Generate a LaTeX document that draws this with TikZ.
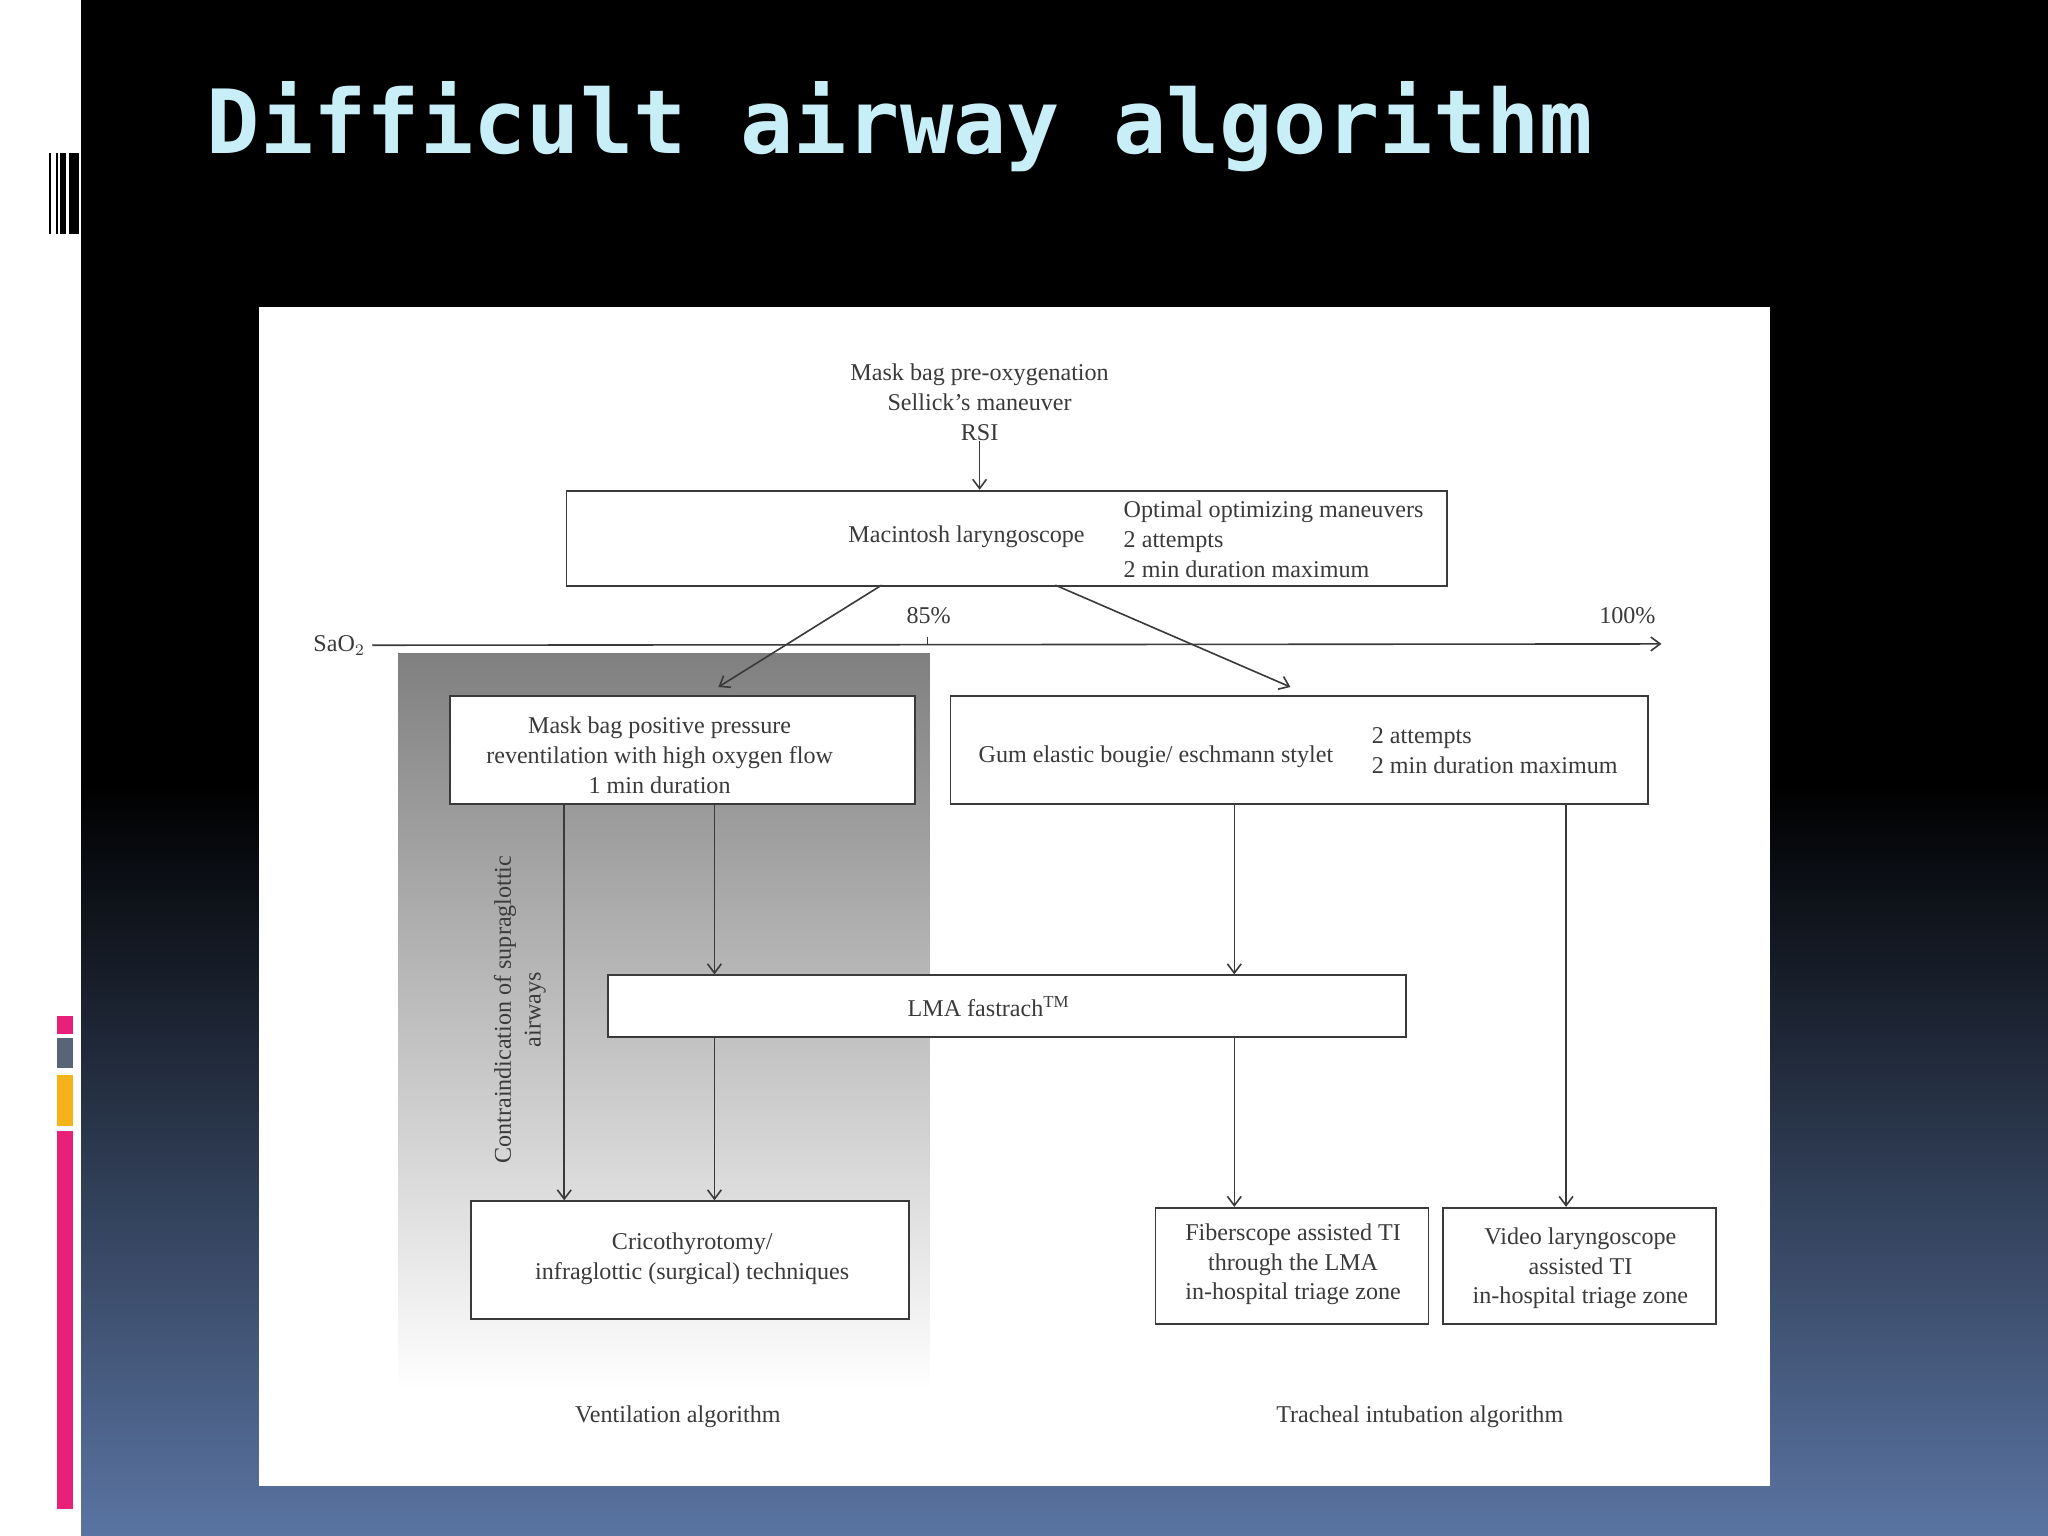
\documentclass[tikz,border=0pt]{standalone}
\usepackage{fontspec}
\setmainfont{Liberation Serif}
\newfontfamily\titlefont{DejaVu Sans Mono Bold}
\usetikzlibrary{arrows.meta}
\definecolor{ttl}{HTML}{C8EEF8}
\definecolor{ln}{HTML}{3A3A3A}
\definecolor{shade}{HTML}{EBEBED}
\definecolor{bgbot}{HTML}{5A74A2}
\definecolor{pinkbar}{HTML}{E8207A}
\definecolor{graybar}{HTML}{5A6478}
\definecolor{orangebar}{HTML}{F5B21A}
\tikzset{
  box/.style={draw=ln, line width=0.8pt, fill=white, inner sep=0pt, anchor=north west},
  txt/.style={font=\fontsize{10.5pt}{13pt}\selectfont, text=ln, inner sep=0pt, align=center},
  arr/.style={draw=ln, line width=0.7pt, -{Straight Barb[length=4pt,width=6pt]}},
}
\begin{document}
\begin{tikzpicture}[x=0.02cm,y=-0.02cm]
\useasboundingbox (0,0) rectangle (1568,1176);
% background
\shade[top color=black, bottom color=bgbot, middle color=black!80!bgbot, shading angle=0] (62,1176) rectangle (1568,0);
\fill[black] (62,0) rectangle (1568,600);
\shade[top color=black, bottom color=bgbot] (62,600) rectangle (1568,1176);
\fill[white] (0,0) rectangle (62,1176);
% sidebar bars
\fill[black] (37.6,117) rectangle (39,179);
\fill[black] (42.6,117) rectangle (44.6,179);
\fill[black] (45.9,117) rectangle (50.8,179);
\fill[black] (52.8,117) rectangle (60.8,179);
\fill[pinkbar] (44,778) rectangle (56,792);
\fill[graybar] (44,795) rectangle (56,818);
\fill[orangebar] (44,823) rectangle (56,862);
\fill[pinkbar] (44,866) rectangle (56,1155);
% title
\node[anchor=west, text=ttl, inner sep=0pt, font=\titlefont\fontsize{38.6pt}{40pt}\selectfont] (title) at (158,97) {Difficult airway algorithm};
% panel
\fill[white] (198,235) rectangle (1355,1138);
\fill[shade] (305,500) rectangle (712,1065);
% top text
\node[txt] (pre) at (750,308) {Mask bag pre-oxygenation\\Sellick's maneuver\\RSI};
% Macintosh
\node[box, minimum width=674*0.02cm, minimum height=73*0.02cm] (mac) at (433,375) {};
\node[txt] (mactxt) at (740,411) {Macintosh laryngoscope};
\node[txt, align=left, anchor=west] (macr) at (860,413) {Optimal optimizing maneuvers\\2 attempts\\2 min duration maximum};
\draw[arr] (pre.south) -- (mac.north -| pre.south);
% SaO2 axis
\node[txt, anchor=east] (sao) at (280,494) {SaO$_2$};
\coordinate (axend) at (1272,493);
\draw[arr] (sao.east) ++(5,0) coordinate (axst) -- (axend);
\draw[ln, line width=0.7pt] (710,488) coordinate (tk) -- (710,493);
\node[txt] (p85) at (711,471) {85\%};
\node[txt] (p100) at (1246,471) {100\%};
% level 2 boxes
\node[box, minimum width=356*0.02cm, minimum height=83*0.02cm] (mask) at (344,532) {};
\node[txt] (masktxt) at (505,578) {Mask bag positive pressure\\reventilation with high oxygen flow\\1 min duration};
\node[box, minimum width=534*0.02cm, minimum height=83*0.02cm] (gum) at (727,532) {};
\node[txt] (gumtxt) at (885,579) {Gum elastic bougie/ eschmann stylet};
\node[txt, align=left, anchor=west] (gumr) at (1050,575) {2 attempts\\2 min duration maximum};
\coordinate (m1) at (675,448); \coordinate (m2) at (808,448);
\draw[arr] (m1) -- (550,526) coordinate (e1);
\draw[arr] (m2) -- (988,526) coordinate (e2);
% LMA
\node[box, minimum width=611*0.02cm, minimum height=47*0.02cm] (lma) at (465,746) {};
\node[txt] (lmatxt) at (757,771) {LMA fastrach$^{\mathrm{TM}}$};
% bottom boxes
\node[box, minimum width=335*0.02cm, minimum height=90*0.02cm] (cric) at (360,919) {};
\node[txt] (crictxt) at (530,964) {Cricothyrotomy/\\infraglottic (surgical) techniques};
\node[box, minimum width=209*0.02cm, minimum height=89*0.02cm] (fib) at (884,924) {};
\node[txt] (fibtxt) at (990,968) {Fiberscope assisted TI\\through the LMA\\in-hospital triage zone};
\node[box, minimum width=209*0.02cm, minimum height=89*0.02cm] (vid) at (1104,924) {};
\node[txt] (vidtxt) at (1210,971) {Video laryngoscope\\assisted TI\\in-hospital triage zone};
% vertical arrows
\draw[arr] (mask.south -| 432,0) -- (cric.north -| 432,0);
\draw[arr] (mask.south -| 547,0) -- (lma.north -| 547,0);
\draw[arr] (lma.south -| 547,0) -- (cric.north -| 547,0);
\draw[arr] (gum.south -| 945,0) -- (lma.north -| 945,0);
\draw[arr] (lma.south -| 945,0) -- (fib.north -| 945,0);
\draw[arr] (gum.south -| 1199,0) -- (vid.north -| 1199,0);
% rotated label
\node[txt, rotate=90] (contra) at (398,773) {Contraindication of supraglottic\\airways};
% captions
\node[txt] (vent) at (519,1085) {Ventilation algorithm};
\node[txt] (trach) at (1087,1085) {Tracheal intubation algorithm};
\end{tikzpicture}
\end{document}
